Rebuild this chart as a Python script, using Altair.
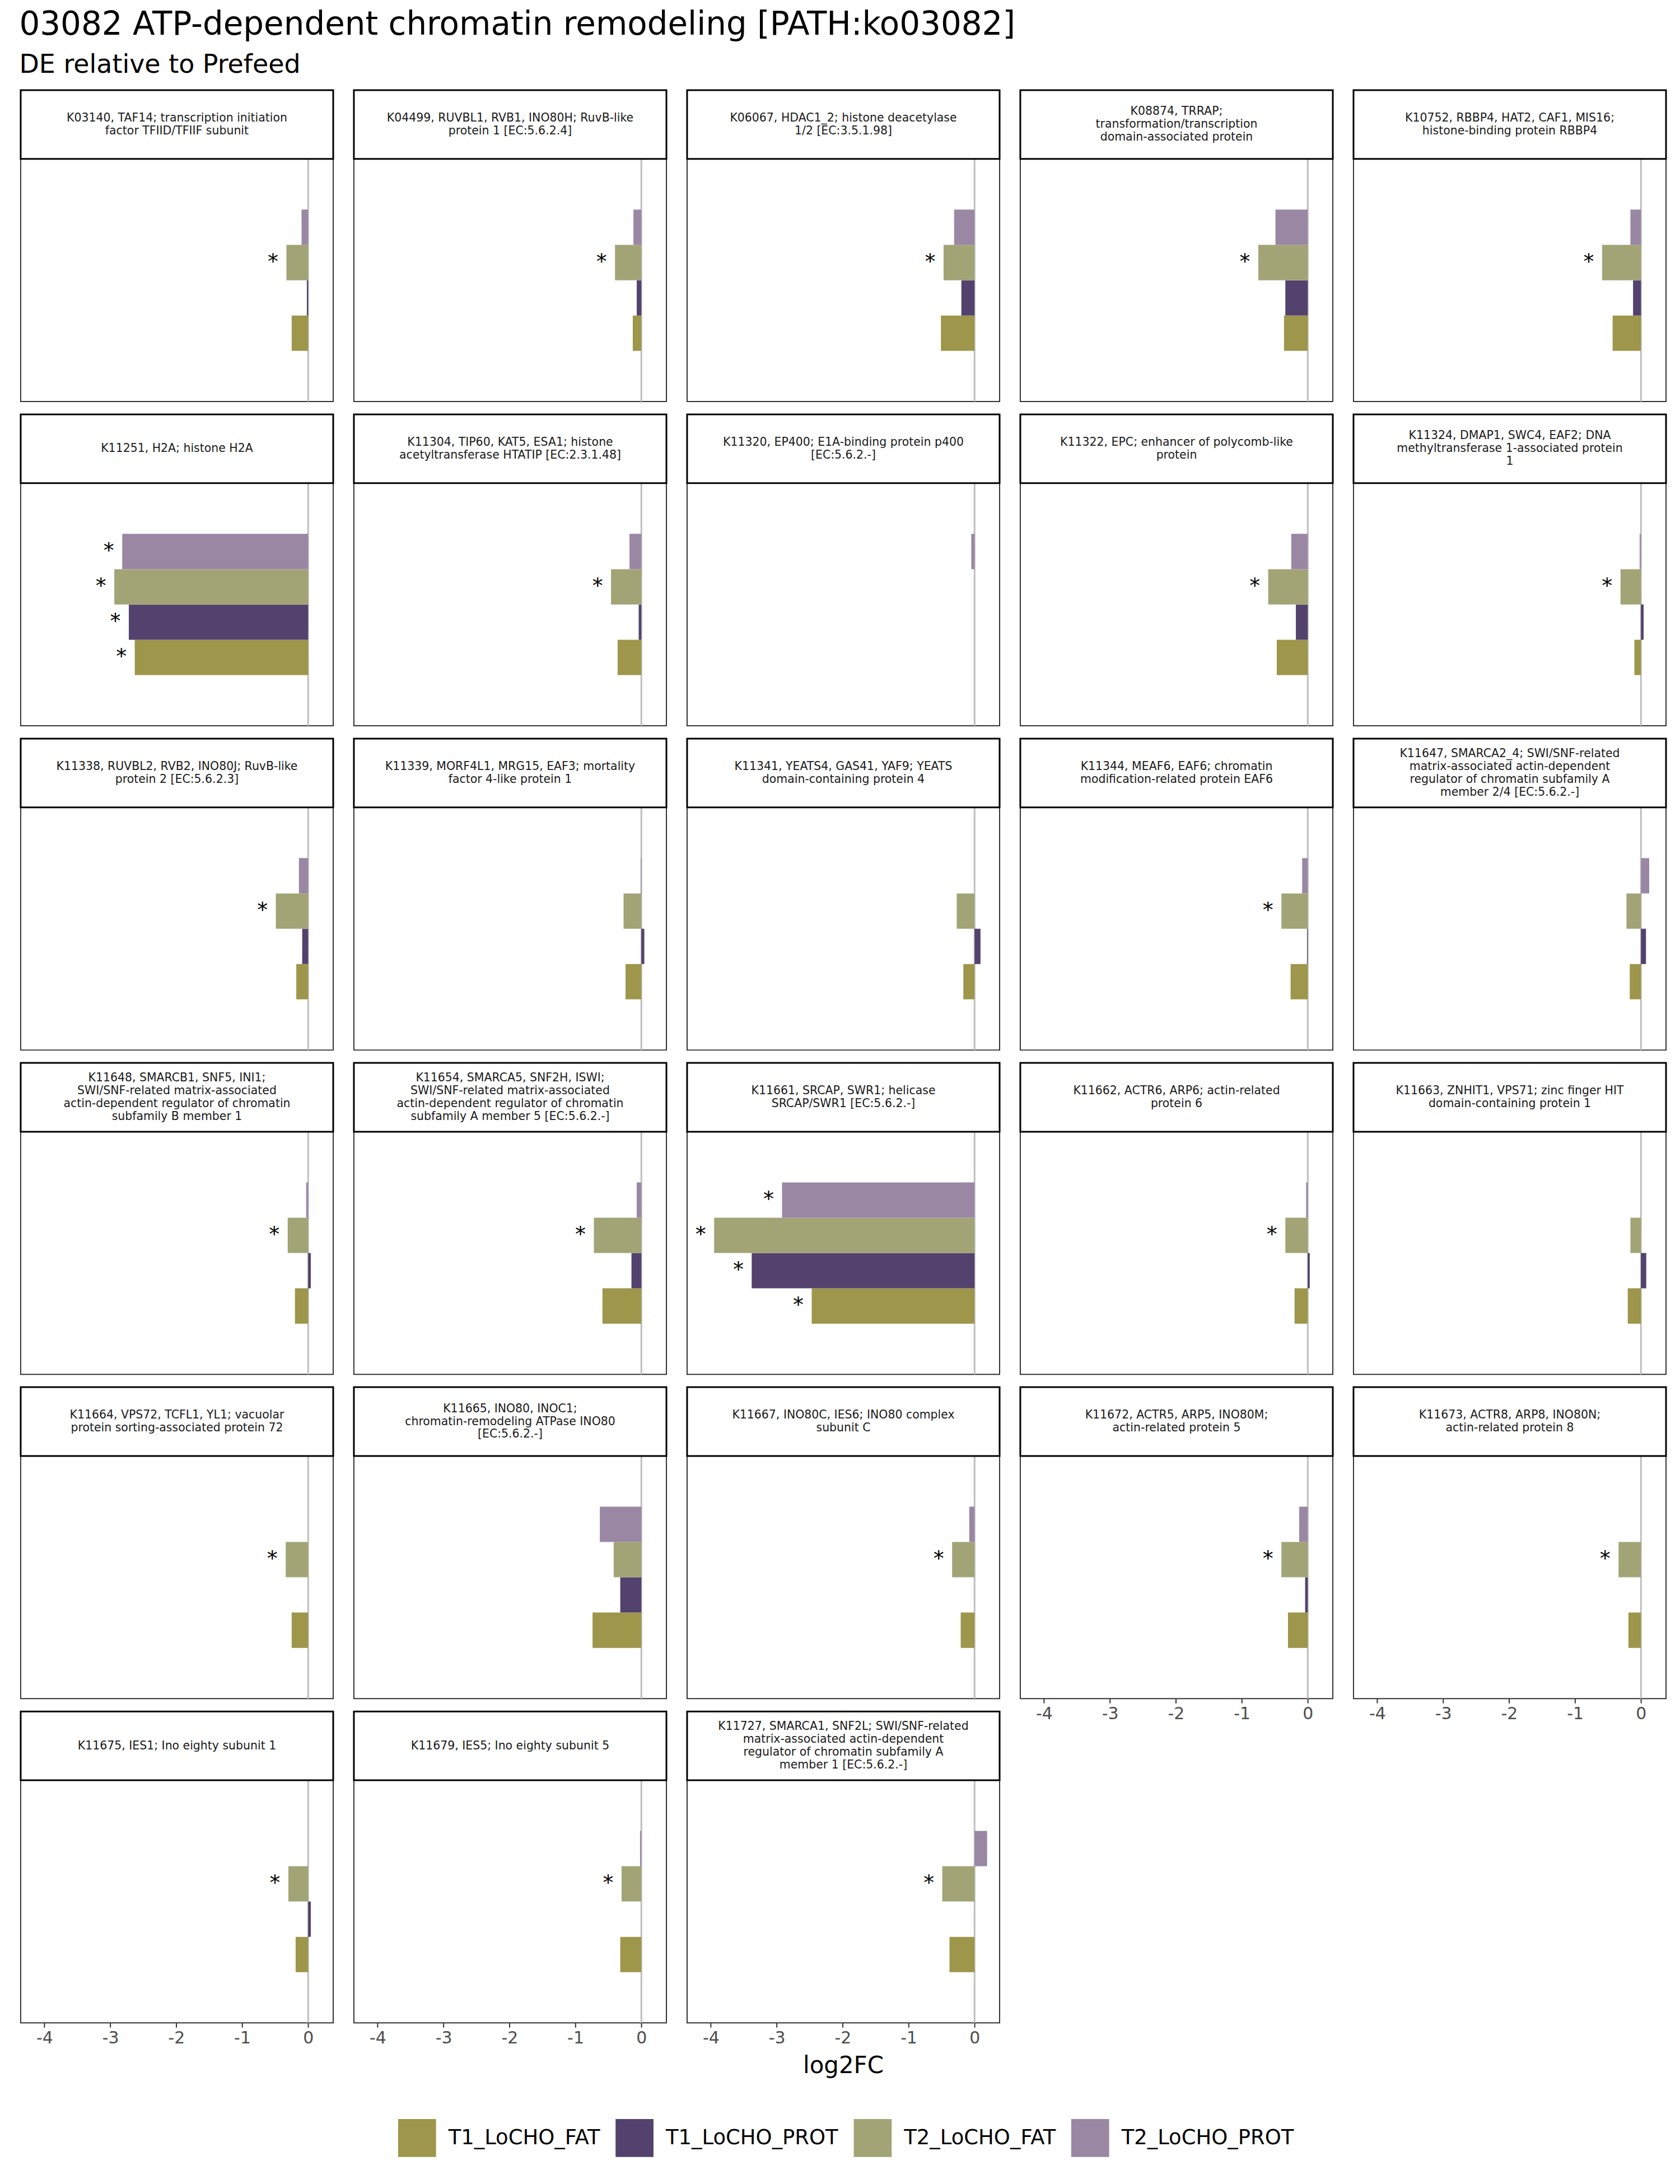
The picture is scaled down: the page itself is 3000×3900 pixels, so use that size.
import altair as alt
import pandas as pd

# ---------------- data ----------------
panel_labels = [
    "K03140, TAF14; transcription initiation\nfactor TFIID/TFIIF subunit",
    "K04499, RUVBL1, RVB1, INO80H; RuvB-like\nprotein 1 [EC:5.6.2.4]",
    "K06067, HDAC1_2; histone deacetylase\n1/2 [EC:3.5.1.98]",
    "K08874, TRRAP;\ntransformation/transcription\ndomain-associated protein",
    "K10752, RBBP4, HAT2, CAF1, MIS16;\nhistone-binding protein RBBP4",
    "K11251, H2A; histone H2A",
    "K11304, TIP60, KAT5, ESA1; histone\nacetyltransferase HTATIP [EC:2.3.1.48]",
    "K11320, EP400; E1A-binding protein p400\n[EC:5.6.2.-]",
    "K11322, EPC; enhancer of polycomb-like\nprotein",
    "K11324, DMAP1, SWC4, EAF2; DNA\nmethyltransferase 1-associated protein\n1",
    "K11338, RUVBL2, RVB2, INO80J; RuvB-like\nprotein 2 [EC:5.6.2.3]",
    "K11339, MORF4L1, MRG15, EAF3; mortality\nfactor 4-like protein 1",
    "K11341, YEATS4, GAS41, YAF9; YEATS\ndomain-containing protein 4",
    "K11344, MEAF6, EAF6; chromatin\nmodification-related protein EAF6",
    "K11647, SMARCA2_4; SWI/SNF-related\nmatrix-associated actin-dependent\nregulator of chromatin subfamily A\nmember 2/4 [EC:5.6.2.-]",
    "K11648, SMARCB1, SNF5, INI1;\nSWI/SNF-related matrix-associated\nactin-dependent regulator of chromatin\nsubfamily B member 1",
    "K11654, SMARCA5, SNF2H, ISWI;\nSWI/SNF-related matrix-associated\nactin-dependent regulator of chromatin\nsubfamily A member 5 [EC:5.6.2.-]",
    "K11661, SRCAP, SWR1; helicase\nSRCAP/SWR1 [EC:5.6.2.-]",
    "K11662, ACTR6, ARP6; actin-related\nprotein 6",
    "K11663, ZNHIT1, VPS71; zinc finger HIT\ndomain-containing protein 1",
    "K11664, VPS72, TCFL1, YL1; vacuolar\nprotein sorting-associated protein 72",
    "K11665, INO80, INOC1;\nchromatin-remodeling ATPase INO80\n[EC:5.6.2.-]",
    "K11667, INO80C, IES6; INO80 complex\nsubunit C",
    "K11672, ACTR5, ARP5, INO80M;\nactin-related protein 5",
    "K11673, ACTR8, ARP8, INO80N;\nactin-related protein 8",
    "K11675, IES1; Ino eighty subunit 1",
    "K11679, IES5; Ino eighty subunit 5",
    "K11727, SMARCA1, SNF2L; SWI/SNF-related\nmatrix-associated actin-dependent\nregulator of chromatin subfamily A\nmember 1 [EC:5.6.2.-]",
]

groups = ["T1_LoCHO_FAT", "T1_LoCHO_PROT", "T2_LoCHO_FAT", "T2_LoCHO_PROT"]
colors = ["#9D964B", "#52426D", "#A3A476", "#9A87A4"]

t1_fat = [-0.25, -0.13, -0.51, -0.36, -0.43, -2.63, -0.36, None, -0.47, -0.10,
          -0.18, -0.24, -0.17, -0.26, -0.17, -0.20, -0.59, -2.47, -0.20, -0.20,
          -0.25, -0.74, -0.21, -0.30, -0.19, -0.19, -0.32, -0.38]
t1_prot = [-0.02, -0.07, -0.20, -0.34, -0.12, -2.72, -0.04, None, -0.18, 0.04,
           -0.09, 0.045, 0.09, -0.01, 0.076, 0.04, -0.15, -3.38, 0.03, 0.08,
           None, -0.32, None, -0.04, None, 0.04, None, None]
t2_fat = [-0.33, -0.40, -0.47, -0.75, -0.59, -2.94, -0.46, None, -0.60, -0.31,
          -0.49, -0.27, -0.27, -0.40, -0.22, -0.31, -0.72, -3.95, -0.34, -0.16,
          -0.34, -0.42, -0.34, -0.40, -0.34, -0.30, -0.30, -0.49]
t2_prot = [-0.10, -0.12, -0.31, -0.49, -0.16, -2.82, -0.18, -0.05, -0.25, -0.02,
           -0.14, -0.01, None, -0.085, 0.125, -0.03, -0.07, -2.92, -0.025, None,
           None, -0.63, -0.08, -0.13, None, None, -0.02, 0.19]

sig_t1_fat = [0, 0, 0, 0, 0, 1, 0, 0, 0, 0, 0, 0, 0, 0, 0, 0, 0, 1, 0, 0, 0, 0, 0, 0, 0, 0, 0, 0]
sig_t1_prot = [0, 0, 0, 0, 0, 1, 0, 0, 0, 0, 0, 0, 0, 0, 0, 0, 0, 1, 0, 0, 0, 0, 0, 0, 0, 0, 0, 0]
sig_t2_fat = [1, 1, 1, 1, 1, 1, 1, 0, 1, 1, 1, 0, 0, 1, 0, 1, 1, 1, 1, 0, 1, 0, 1, 1, 1, 1, 1, 1]
sig_t2_prot = [0, 0, 0, 0, 0, 1, 0, 0, 0, 0, 0, 0, 0, 0, 0, 0, 0, 1, 0, 0, 0, 0, 0, 0, 0, 0, 0, 0]

x_ticks = [-4, -3, -2, -1, 0]

series = [t1_fat, t1_prot, t2_fat, t2_prot]
sigs = [sig_t1_fat, sig_t1_prot, sig_t2_fat, sig_t2_prot]
records = []
for i, lab in enumerate(panel_labels):
    for g, vals, sg in zip(groups, series, sigs):
        records.append({"panel": lab, "group": g, "value": vals[i], "sig": sg[i]})
df = pd.DataFrame(records)

# ---------------- layout constants ----------------
W, H, STRIP = 559, 434, 123
LH = 23
FONT = "DejaVu Sans"
NCOL = 5
# blank slots at both ends give the discrete axis its empty margin
y_order = [" ", "T2_LoCHO_PROT", "T2_LoCHO_FAT", "T1_LoCHO_PROT", "T1_LoCHO_FAT", "  "]

x_scale = alt.Scale(domain=[-4.36, 0.38], nice=False)
y_scale = alt.Scale(domain=y_order, paddingInner=0, paddingOuter=0.435)
x_axis = alt.Axis(values=x_ticks, title=None, grid=False, domain=False,
                  labelFontSize=30, labelColor="#4D4D4D", labelExpr="'' + datum.value",
                  tickColor="#333333", tickWidth=2, tickSize=8, labelPadding=4, labelFont=FONT)
legend = alt.Legend(
    title=None, orient="none", legendX=675, legendY=3506, direction="horizontal",
    symbolType="square", symbolSize=4600, symbolStrokeWidth=0,
    labelFontSize=37, labelFont=FONT, labelColor="black", labelOffset=22,
    columnPadding=27, labelLimit=600, padding=0,
)

n_panels = len(panel_labels)


def make_panel(i, lab):
    # x axis only under the lowest panel of each column
    ax = x_axis if i + NCOL >= n_panels else None
    base = alt.Chart(df).transform_filter(alt.datum.panel == lab)

    zero_rule = base.mark_rule(color="#BEBEBE", strokeWidth=3).encode(
        x=alt.XDatum(0, scale=x_scale, axis=ax)
    ).transform_filter(alt.datum.group == "T1_LoCHO_FAT")

    bars = base.mark_bar().encode(
        x=alt.X("value:Q", scale=x_scale, axis=ax),
        y=alt.Y("group:N", scale=y_scale, axis=None),
        color=alt.Color("group:N", scale=alt.Scale(domain=groups, range=colors), legend=legend),
    )

    stars = base.mark_text(text="*", fontSize=38, dx=-24, baseline="middle", align="center",
                           color="black", font=FONT).encode(
        x=alt.X("value:Q", scale=x_scale, axis=ax),
        y=alt.Y("group:N", scale=y_scale, axis=None),
    ).transform_filter(alt.datum.sig == 1)

    strip_bg = base.mark_rect(fill="white", stroke="black", strokeWidth=3).encode(
        x=alt.value(0), x2=alt.value(W), y=alt.value(-STRIP), y2=alt.value(0)
    ).transform_filter(alt.datum.group == "T1_LoCHO_FAT")

    n_lines = lab.count("\n") + 1
    strip_txt = base.mark_text(lineBreak="\n", fontSize=20.5, color="#1A1A1A", baseline="middle",
                               align="center", lineHeight=LH, font=FONT).encode(
        x=alt.value(W / 2), y=alt.value(-STRIP / 2 - (n_lines - 1) * LH / 2), text="panel:N"
    ).transform_filter(alt.datum.group == "T1_LoCHO_FAT")

    return alt.layer(zero_rule, bars, stars, strip_bg, strip_txt).properties(width=W, height=H)


grid = alt.concat(
    *[make_panel(i, lab) for i, lab in enumerate(panel_labels)],
    columns=NCOL,
    spacing={"row": 146, "column": 37},
    bounds="flush",
).properties(
    title=alt.Title("log2FC", orient="bottom", anchor="middle", fontSize=42, font=FONT,
                    fontWeight="normal", color="black", offset=14)
)

chart = alt.vconcat(grid).properties(
    title=alt.Title(
        "03082 ATP-dependent chromatin remodeling [PATH:ko03082]",
        subtitle="DE relative to Prefeed",
        anchor="start", fontSize=58, subtitleFontSize=46, font=FONT, subtitleFont=FONT,
        fontWeight="normal", color="black", subtitleColor="black", offset=20, subtitlePadding=20,
    )
).configure(
    font=FONT, padding={"left": 34, "top": 12, "right": 22, "bottom": 46}
).configure_view(
    stroke="#333333", strokeWidth=2
)

chart.save("out.html", embed_options={"renderer": "svg", "actions": False})
